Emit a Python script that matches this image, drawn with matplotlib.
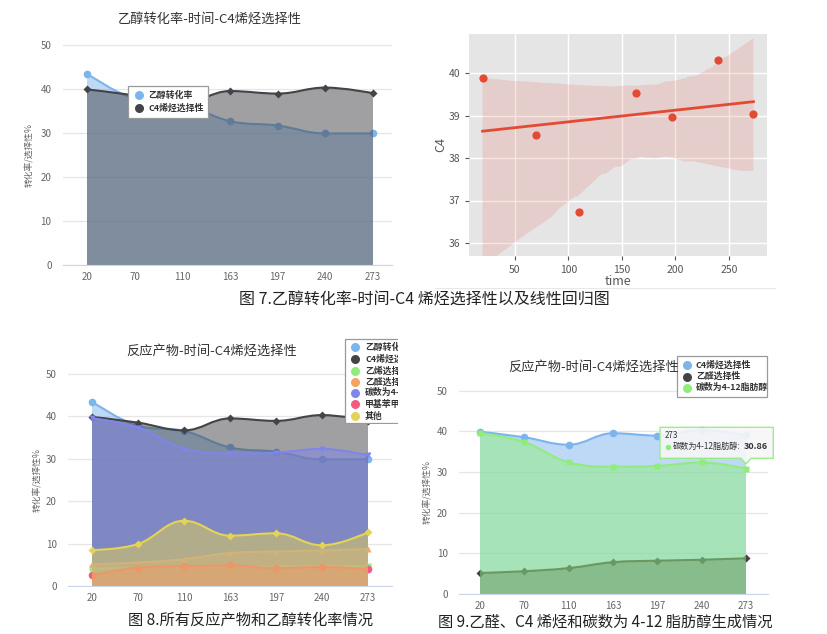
import numpy as np
import matplotlib
matplotlib.use('Agg')
import matplotlib.pyplot as plt
from matplotlib.path import Path
from matplotlib.patches import PathPatch, Rectangle, Polygon
import seaborn as sns

plt.rcParams['font.family'] = ['Noto Sans CJK SC', 'DejaVu Sans']

# data
time_labels = ['20', '70', '110', '163', '197', '240', '273']
time_min = [20, 70, 110, 163, 197, 240, 273]
ethanol_conv = [43.5, 37.8, 36.6, 32.7, 31.7, 29.9, 29.9]
c4_sel = [39.9, 38.55, 36.72, 39.53, 38.96, 40.32, 39.04]
ethylene_sel = [4.23, 4.28, 4.46, 4.63, 4.62, 4.76, 4.68]
acetaldehyde_sel = [5.17, 5.6, 6.37, 7.82, 8.19, 8.42, 8.79]
alcohol_c412 = [39.6, 37.36, 32.39, 31.29, 31.49, 32.36, 30.86]
methylbenz_sel = [2.58, 4.4, 4.72, 4.9, 4.26, 4.55, 4.03]
other_sel = [8.52, 9.96, 15.43, 11.93, 12.48, 9.65, 12.7]

HC = ['#7cb5ec', '#434348', '#90ed7d', '#f7a35c', '#8085e9', '#f15c80', '#e4d354']

W, H = 827, 634
fig = plt.figure(figsize=(W / 100, H / 100), dpi=100)


def px_axes(left, top, right, bottom):
    return fig.add_axes([left / W, 1 - bottom / H, (right - left) / W, (bottom - top) / H])


def spline_path(ys):
    # highcharts-like areaspline bezier path
    n = len(ys)
    sm, den = 1.5, 2.5
    verts, codes = [(0, ys[0])], [Path.MOVETO]
    rc = [None] * n
    for i in range(n):
        x, y = i, ys[i]
        lc = None
        if 0 < i < n - 1:
            lx, ly, nx, ny = i - 1, ys[i - 1], i + 1, ys[i + 1]
            lcx, lcy = (sm * x + lx) / den, (sm * y + ly) / den
            rcx, rcy = (sm * x + nx) / den, (sm * y + ny) / den
            corr = (rcy - lcy) * (rcx - x) / (rcx - lcx) + y - rcy
            lcy += corr
            rcy += corr
            if lcy > ly and lcy > y:
                lcy = max(ly, y); rcy = 2 * y - lcy
            elif lcy < ly and lcy < y:
                lcy = min(ly, y); rcy = 2 * y - lcy
            if rcy > ny and rcy > y:
                rcy = max(ny, y); lcy = 2 * y - rcy
            elif rcy < ny and rcy < y:
                rcy = min(ny, y); lcy = 2 * y - rcy
            lc = (lcx, lcy)
            rc[i] = (rcx, rcy)
        if i > 0:
            p = rc[i - 1] if rc[i - 1] else (i - 1, ys[i - 1])
            verts += [p, lc if lc else (x, y), (x, y)]
            codes += [Path.CURVE4] * 3
    return verts, codes


def draw_series(ax, ys, color, marker, ms, z):
    n = len(ys)
    verts, codes = spline_path(ys)
    av = verts + [(n - 1, 0), (0, 0), verts[0]]
    ac = codes + [Path.LINETO, Path.LINETO, Path.CLOSEPOLY]
    ax.add_patch(PathPatch(Path(av, ac), facecolor=color, alpha=0.5, edgecolor='none', zorder=z))
    ax.add_patch(PathPatch(Path(verts, codes), facecolor='none', edgecolor=color, lw=1.5, zorder=z + 0.1))
    ax.plot(range(n), ys, ls='none', marker=marker, ms=ms, color=color, mec='none', zorder=z + 0.2)


def hc_panel(left, right, x0, x6, yb, yt):
    dx = (x6 - x0) / 6
    sy = (yb - yt) / 50
    ax = px_axes(left, yt - sy * 0.6, right, yb)
    ax.set_xlim((left - x0) / dx, (right - x0) / dx)
    ax.set_ylim(0, 50.6)
    for s in ['top', 'right', 'left']:
        ax.spines[s].set_visible(False)
    ax.spines['bottom'].set_color('#ccd6eb')
    ax.spines['bottom'].set_zorder(20)
    ax.set_yticks(range(0, 51, 10))
    ax.yaxis.grid(True, color='#e6e6e6', lw=0.9)
    ax.set_axisbelow(True)
    ax.set_xticks(range(7))
    ax.set_xticklabels(time_labels)
    ax.tick_params(length=0, labelsize=7, colors='#666666')
    ax.tick_params(axis='y', pad=8)
    ax.tick_params(axis='x', pad=5)
    return ax


# overlay in pixel coordinates for titles, legends, captions
ov = fig.add_axes([0, 0, 1, 1])
ov.set_xlim(0, W)
ov.set_ylim(H, 0)
ov.axis('off')
ov.set_zorder(10)
ov.patch.set_visible(False)


def legend_box(x0, y0, x1, y1, items, tx, mx, clip_ax=None):
    tgt = clip_ax if clip_ax is not None else ov
    tgt.add_patch(Rectangle((x0, y0), x1 - x0, y1 - y0, facecolor='white', edgecolor='#999999',
                            lw=0.9, zorder=1, clip_on=clip_ax is not None))
    for (label, color, yy) in items:
        tgt.plot([mx], [yy], 'o', ms=6.5, color=color, mec='none', zorder=2, clip_on=clip_ax is not None)
        tgt.text(tx, yy, label, fontsize=6.4, fontweight='bold', color='#333333', va='center',
                 ha='left', zorder=3, clip_on=clip_ax is not None)


# ---------- panel 1 ----------
ax1 = hc_panel(62.7, 392, 87, 373, 265, 45)
draw_series(ax1, ethanol_conv, HC[0], 'o', 5.5, 2)
draw_series(ax1, c4_sel, HC[1], 'D', 3.8, 3)
ov.text(210, 20.5, '乙醇转化率-时间-C4烯烃选择性', fontsize=9.5, color='#333333', ha='center', va='center')
ov.text(30, 155, '转化率/选择性%', fontsize=6.3, color='#666666', rotation=90, ha='center', va='center')
legend_box(128, 86, 208, 118, [('乙醇转化率', HC[0], 95), ('C4烯烃选择性', HC[1], 108.3)], 148.3, 139.3)

# ---------- panel 2 (regression) ----------
ax2 = px_axes(469, 34, 767, 256)
ax2.set_facecolor('#E5E5E5')
for s in ax2.spines.values():
    s.set_visible(False)
sns.regplot(x=np.array(time_min), y=np.array(c4_sel), ax=ax2, color='#E24A33', seed=3,
            scatter_kws={'s': 24, 'alpha': 1}, line_kws={'lw': 2})
ax2.grid(True, color='white', lw=1)
ax2.set_axisbelow(True)
ax2.set_xlim(7.35, 285.65)
ax2.set_ylim(35.69, 40.93)
ax2.set_xticks([50, 100, 150, 200, 250])
ax2.set_yticks([36, 37, 38, 39, 40])
ax2.tick_params(labelsize=7.5, colors='#555555', length=3)
ax2.set_xlabel('time', fontsize=9, color='#555555', labelpad=0)
ax2.set_ylabel('C4', fontsize=9, color='#555555', labelpad=1)
ov.plot([435, 775], [288, 288], color='#e8e8e8', lw=0.8)
ov.text(424, 300, '图 7.乙醇转化率-时间-C4 烯烃选择性以及线性回归图', fontsize=11.5, color='#222222',
        ha='center', va='center')

# ---------- panel 3 ----------
ax3 = hc_panel(68, 392, 92, 368, 586.3, 374)
series3 = [ethanol_conv, c4_sel, ethylene_sel, acetaldehyde_sel, alcohol_c412, methylbenz_sel, other_sel]
markers = [('o', 5.5), ('D', 3.8), ('s', 4.5), ('^', 5), ('v', 5), ('o', 5.5), ('D', 3.8)]
for k, ys in enumerate(series3):
    draw_series(ax3, ys, HC[k], markers[k][0], markers[k][1], 2 + k)
ov.text(212, 351, '反应产物-时间-C4烯烃选择性', fontsize=9.5, color='#333333', ha='center', va='center')
ov.text(38, 480, '转化率/选择性%', fontsize=6.3, color='#666666', rotation=90, ha='center', va='center')
lg3 = fig.add_axes([344 / W, 1 - 424 / H, (398 - 344) / W, (424 - 338) / H])
lg3.set_xlim(344, 398)
lg3.set_ylim(424, 338)
lg3.axis('off')
lg3.patch.set_visible(False)
lg3.set_zorder(11)
names3 = ['乙醇转化率', 'C4烯烃选择性', '乙烯选择性', '乙醛选择性', '碳数为4-12脂肪醇', '甲基苯甲醛和甲基苯甲醇', '其他']
ys3 = [347.3, 359, 370.7, 381.7, 392.7, 404, 416]
legend_box(344.5, 339, 420, 422.7, list(zip(names3, HC, ys3)), 365, 355, clip_ax=lg3)
ov.text(251, 620, '图 8.所有反应产物和乙醇转化率情况', fontsize=11, color='#222222', ha='center', va='center')

# ---------- panel 4 ----------
ax4 = hc_panel(459, 768, 480, 746, 594, 390.7)
draw_series(ax4, c4_sel, HC[0], 'o', 5.5, 2)
draw_series(ax4, acetaldehyde_sel, HC[1], 'D', 3.8, 3)
draw_series(ax4, alcohol_c412, HC[2], 's', 4.5, 4)
ov.text(594, 367, '反应产物-时间-C4烯烃选择性', fontsize=9.5, color='#333333', ha='center', va='center')
ov.text(428, 492, '转化率/选择性%', fontsize=6.3, color='#666666', rotation=90, ha='center', va='center')
legend_box(677, 356, 767, 397, [('C4烯烃选择性', HC[0], 365), ('乙醛选择性', HC[1], 376.5),
                                ('碳数为4-12脂肪醇', HC[2], 387.7)], 696, 686.5)
# tooltip
tip = Polygon([(660, 427.3), (773.3, 427.3), (773.3, 458.3), (751, 458.3), (746, 464), (741, 458.3),
               (660, 458.3)], closed=True, facecolor='#f7f7f7', alpha=0.9, edgecolor=HC[2], lw=1, zorder=5)
ov.add_patch(tip)
ov.text(665, 436, time_labels[-1], fontsize=5.8, color='#333333', ha='left', va='center', zorder=6)
ov.plot([667.7], [446.5], 'o', ms=4, color=HC[2], mec='none', zorder=6)
tt = ov.text(673, 446.5, '碳数为4-12脂肪醇:', fontsize=5.9, color='#333333', ha='left', va='center', zorder=6)
fig.canvas.draw()
bb = tt.get_window_extent(fig.canvas.get_renderer())
ov.text(bb.x1 + 3, 446.5, f'{alcohol_c412[-1]:.2f}', fontsize=6.5, fontweight='bold', color='#333333',
        ha='left', va='center', zorder=6)
ov.text(605, 622, '图 9.乙醛、C4 烯烃和碳数为 4-12 脂肪醇生成情况', fontsize=11, color='#222222',
        ha='center', va='center')

fig.savefig('out.png', dpi=100)
